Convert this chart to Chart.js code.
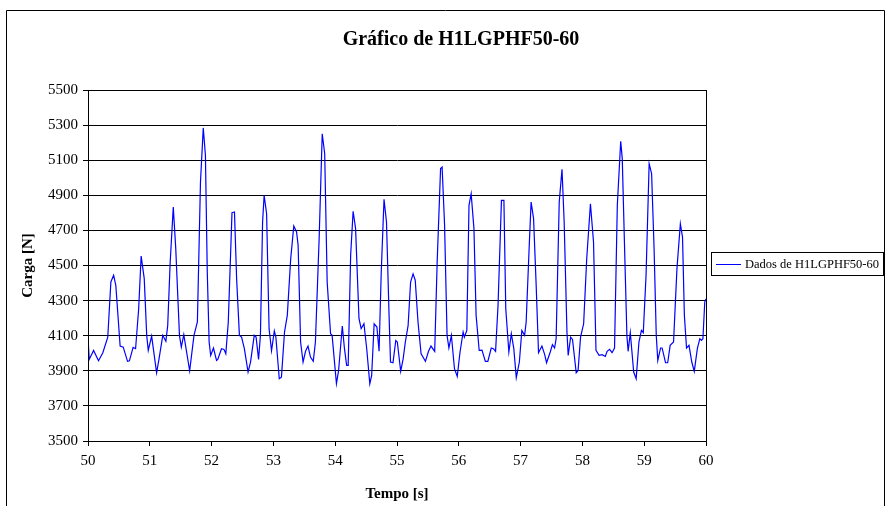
<!DOCTYPE html>
<html>
<head>
<meta charset="utf-8">
<script src="https://cdn.jsdelivr.net/npm/chart.js@4.4.0/dist/chart.umd.min.js"></script>
<style>
  body { margin: 0; background: #fff; }
  #wrap { width: 887px; height: 506px; position: relative; }
</style>
</head>
<body>
<div id="wrap"><canvas id="grafico"></canvas></div>
<script>
// DADOS
const titulo = 'Gráfico de H1LGPHF50-60';
const serie = 'Dados de H1LGPHF50-60';
const tempo = [
  50.00, 50.02, 50.09, 50.17, 50.24, 50.32, 50.37, 50.415, 50.45, 50.52,
  50.57, 50.64, 50.67, 50.73, 50.77, 50.82, 50.86, 50.91, 50.95, 50.975,
  51.03, 51.11, 51.15, 51.21, 51.26, 51.29, 51.33, 51.38, 51.42, 51.48,
  51.51, 51.55, 51.645, 51.715, 51.77, 51.82, 51.865, 51.90, 51.93, 51.96,
  51.985, 52.03, 52.08, 52.10, 52.16, 52.20, 52.23, 52.27, 52.33, 52.37,
  52.405, 52.45, 52.485, 52.53, 52.59, 52.63, 52.69, 52.72, 52.76, 52.79,
  52.825, 52.85, 52.89, 52.93, 52.97, 53.015, 53.04, 53.095, 53.13, 53.18,
  53.225, 53.28, 53.33, 53.375, 53.40, 53.44, 53.48, 53.52, 53.56, 53.60,
  53.645, 53.68, 53.74, 53.79, 53.83, 53.87, 53.925, 53.95, 54.02, 54.055,
  54.115, 54.15, 54.185, 54.21, 54.25, 54.29, 54.33, 54.385, 54.42, 54.465,
  54.51, 54.56, 54.59, 54.63, 54.675, 54.71, 54.745, 54.79, 54.83, 54.87,
  54.895, 54.935, 54.98, 55.005, 55.06, 55.10, 55.135, 55.18, 55.22, 55.26,
  55.295, 55.34, 55.39, 55.46, 55.51, 55.55, 55.61, 55.65, 55.705, 55.73,
  55.77, 55.81, 55.84, 55.88, 55.93, 55.975, 56.02, 56.07, 56.09, 56.13,
  56.165, 56.20, 56.245, 56.28, 56.33, 56.375, 56.43, 56.47, 56.525, 56.56,
  56.595, 56.635, 56.69, 56.73, 56.76, 56.81, 56.85, 56.89, 56.93, 56.98,
  57.02, 57.065, 57.09, 57.14, 57.17, 57.21, 57.25, 57.29, 57.345, 57.39,
  57.42, 57.48, 57.515, 57.55, 57.575, 57.625, 57.67, 57.705, 57.75, 57.77,
  57.81, 57.84, 57.90, 57.93, 57.97, 58.02, 58.07, 58.13, 58.18, 58.22,
  58.27, 58.32, 58.37, 58.40, 58.44, 58.48, 58.52, 58.565, 58.62, 58.645,
  58.68, 58.72, 58.74, 58.775, 58.83, 58.87, 58.915, 58.955, 58.985, 59.03,
  59.08, 59.12, 59.16, 59.195, 59.22, 59.265, 59.29, 59.345, 59.38, 59.42,
  59.475, 59.53, 59.585, 59.62, 59.65, 59.685, 59.725, 59.77, 59.81, 59.86,
  59.90, 59.925, 59.95, 59.98, 60.00
];
const carga = [
  4090, 3965, 4016, 3957, 4003, 4092, 4406, 4444, 4387, 4041,
  4035, 3954, 3957, 4033, 4026, 4254, 4554, 4425, 4102, 4016,
  4098, 3889, 3969, 4102, 4068, 4159, 4520, 4833, 4596, 4102,
  4035, 4106, 3900, 4102, 4178, 4976, 5284, 5128, 4463, 4064,
  3988, 4030, 3959, 3965, 4026, 4022, 3997, 4178, 4801, 4805,
  4425, 4102, 4092, 4026, 3893, 3950, 4102, 4092, 3965, 4102,
  4748, 4900, 4795, 4140, 4014, 4127, 4092, 3855, 3864, 4121,
  4216, 4539, 4725, 4691, 4615, 4064, 3950, 4011, 4041, 3978,
  3954, 4064, 4653, 5251, 5137, 4406, 4111, 4102, 3826, 3902,
  4155, 4026, 3931, 3931, 4558, 4809, 4710, 4197, 4140, 4168,
  4026, 3826, 3874, 4168, 4149, 4011, 4463, 4877, 4748, 4235,
  3950, 3946, 4073, 4064, 3897, 3969, 4064, 4159, 4406, 4452,
  4416, 4178, 3997, 3954, 4011, 4041, 4011, 4520, 5052, 5061,
  4729, 4102, 4030, 4102, 3912, 3868, 4007, 4121, 4092, 4130,
  4843, 4909, 4710, 4216, 4016, 4018, 3954, 3954, 4030, 4026,
  4011, 4273, 4871, 4871, 4254, 4007, 4111, 4026, 3861, 3950,
  4130, 4102, 4178, 4615, 4862, 4767, 4406, 4003, 4041, 3992,
  3946, 4007, 4049, 4030, 4083, 4862, 5048, 4748, 4121, 3988,
  4092, 4079, 3889, 3902, 4092, 4168, 4539, 4852, 4634, 4016,
  3988, 3992, 3982, 4011, 4022, 4003, 4030, 4843, 5208, 5109,
  4634, 4102, 4011, 4117, 3893, 3855, 4064, 4130, 4117, 4444,
  5080, 5023, 4596, 4102, 3959, 4030, 4030, 3946, 3946, 4045,
  4064, 4482, 4738, 4662, 4216, 4030, 4045, 3950, 3897, 4026,
  4083, 4073, 4083, 4292, 4310
];
const ticksX = [50, 51, 52, 53, 54, 55, 56, 57, 58, 59, 60];
const ticksY = [3500, 3700, 3900, 4100, 4300, 4500, 4700, 4900, 5100, 5300, 5500];

const fonte = '"Liberation Serif", "Times New Roman", serif';

// titulo, moldura da area do grafico, moldura externa e legenda
const molduraPlugin = {
  id: 'moldura',
  afterDraw(chart) {
    const { ctx, chartArea: a } = chart;
    ctx.save();
    ctx.fillStyle = '#000';
    ctx.font = 'bold 20px ' + fonte;
    ctx.textAlign = 'center';
    ctx.textBaseline = 'middle';
    ctx.fillText(titulo, 461, 40);

    ctx.strokeStyle = '#000';
    ctx.lineWidth = 1;
    ctx.strokeRect(Math.round(a.left) + 0.5, Math.round(a.top) + 0.5,
      Math.round(a.right - a.left), Math.round(a.bottom - a.top));

    // moldura externa
    ctx.beginPath();
    ctx.moveTo(6.5, 506);
    ctx.lineTo(6.5, 10.5);
    ctx.lineTo(884.5, 10.5);
    ctx.lineTo(884.5, 506);
    ctx.stroke();

    // legenda
    ctx.strokeRect(711.5, 252.5, 172, 23);
    ctx.strokeStyle = '#0000ff';
    ctx.beginPath();
    ctx.moveTo(716, 264.5);
    ctx.lineTo(741, 264.5);
    ctx.stroke();
    ctx.font = '12.5px ' + fonte;
    ctx.textAlign = 'left';
    ctx.fillText(serie, 745, 265);
    ctx.restore();
  }
};

new Chart(document.getElementById('grafico'), {
  type: 'line',
  data: {
    labels: tempo,
    datasets: [{
      label: serie,
      data: tempo.map((t, i) => ({ x: t, y: carga[i] })),
      borderColor: '#0000ff',
      borderWidth: 1.2,
      pointRadius: 0,
      tension: 0,
      fill: false
    }]
  },
  options: {
    responsive: true,
    maintainAspectRatio: false,
    animation: false,
    layout: { padding: { left: 0, right: 181, top: 90, bottom: 0 } },
    plugins: {
      legend: { display: false },
      tooltip: { enabled: false },
      title: { display: false }
    },
    scales: {
      x: {
        type: 'linear',
        min: 50,
        max: 60,
        afterFit: s => { s.height = 65; },
        afterBuildTicks: s => { s.ticks = ticksX.map(v => ({ value: v })); },
        ticks: {
          color: '#000',
          font: { family: fonte, size: 15 },
          padding: 6,
          maxRotation: 0,
          callback: v => String(v)
        },
        grid: { drawOnChartArea: false, color: '#000', tickLength: 5 },
        border: { color: '#000' },
        title: {
          display: true,
          text: 'Tempo [s]',
          color: '#000',
          font: { family: fonte, size: 15, weight: 'bold' },
          padding: { bottom: 3 }
        }
      },
      y: {
        min: 3500,
        max: 5500,
        afterFit: s => { s.width = 88; },
        afterBuildTicks: s => { s.ticks = ticksY.map(v => ({ value: v })); },
        ticks: {
          color: '#000',
          font: { family: fonte, size: 15 },
          padding: 5,
          callback: v => String(v)
        },
        grid: { color: '#000', tickLength: 5 },
        border: { color: '#000' },
        title: {
          display: true,
          text: 'Carga [N]',
          color: '#000',
          font: { family: fonte, size: 15, weight: 'bold' },
          padding: { top: 19 }
        }
      }
    }
  },
  plugins: [molduraPlugin]
});
</script>
</body>
</html>
